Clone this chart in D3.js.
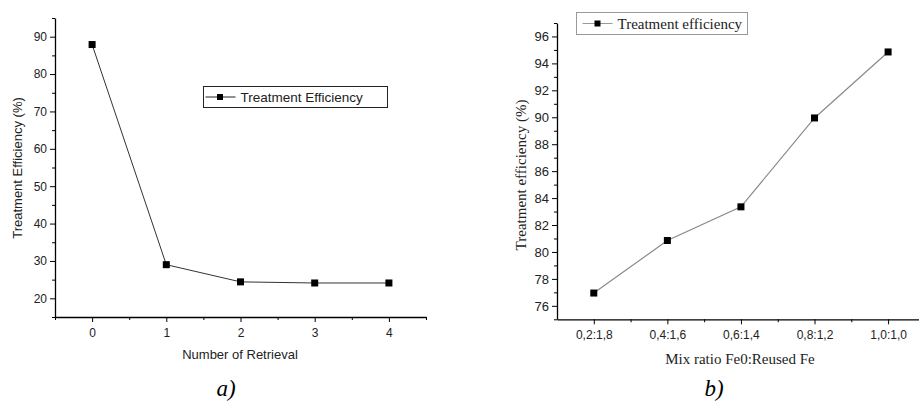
<!DOCTYPE html>
<html>
<head>
<meta charset="utf-8">
<script src="https://cdn.jsdelivr.net/npm/d3@7"></script>
<style>
  body { margin: 0; background: #fff; }
  svg { display: block; }
</style>
</head>
<body>
<svg id="fig" width="919" height="401"></svg>
<script>
// panel a
const retrievals = [0, 1, 2, 3, 4];
const effA = [87.9, 29.0, 24.4, 24.1, 24.1];
const yTicksA = [20, 30, 40, 50, 60, 70, 80, 90];

// panel b
const ratios = ['0,2:1,8', '0,4:1,6', '0,6:1,4', '0,8:1,2', '1,0:1,0'];
const effB = [76.95, 80.85, 83.35, 89.95, 94.85];
const yTicksB = [76, 78, 80, 82, 84, 86, 88, 90, 92, 94, 96];

const svg = d3.select('#fig');

// ---------- panel a ----------
{
    const sans = 'Liberation Sans, Arial, sans-serif';
    const x = d3.scaleLinear().domain([-0.5, 4.5]).range([55, 426]);
    const y = d3.scaleLinear().domain([15, 95]).range([317, 18]);
    const g = svg.append('g').attr('font-family', sans);

    // minor ticks
    g.append('g').attr('transform', 'translate(55,0)')
        .call(d3.axisLeft(y).tickValues(d3.range(15, 96, 10)).tickSize(3).tickFormat(''))
        .call(s => s.select('.domain').remove());
    g.append('g').attr('transform', 'translate(0,317)')
        .call(d3.axisBottom(x).tickValues([-0.5, 0.5, 1.5, 2.5, 3.5, 4.5]).tickSize(3).tickFormat(''))
        .call(s => s.select('.domain').remove());

    const ya = g.append('g').attr('transform', 'translate(55,0)')
        .call(d3.axisLeft(y).tickValues(yTicksA).tickSize(5).tickPadding(3).tickSizeOuter(0));
    ya.selectAll('text').attr('font-size', 12).attr('fill', '#222');
    const xa = g.append('g').attr('transform', 'translate(0,317)')
        .call(d3.axisBottom(x).tickValues(retrievals).tickFormat(d3.format('d'))
            .tickSize(5).tickPadding(6).tickSizeOuter(0));
    xa.selectAll('text').attr('font-size', 12).attr('fill', '#222');
    g.selectAll('.domain').attr('stroke-width', 1.3);

    g.append('path')
        .datum(effA)
        .attr('fill', 'none').attr('stroke', '#333').attr('stroke-width', 1)
        .attr('d', d3.line().x((d, i) => x(retrievals[i])).y(d => y(d)));
    g.selectAll('rect.pt').data(effA).join('rect')
        .attr('x', (d, i) => x(retrievals[i]) - 3.5).attr('y', d => y(d) - 3.5)
        .attr('width', 7).attr('height', 7).attr('fill', '#000');

    g.append('text').attr('x', 240).attr('y', 359).attr('text-anchor', 'middle')
        .attr('font-size', 13).attr('fill', '#222').text('Number of Retrieval');
    g.append('text').attr('transform', 'translate(22,168) rotate(-90)').attr('text-anchor', 'middle')
        .attr('font-size', 13).attr('fill', '#222').text('Treatment Efficiency (%)');

    // legend
    const lg = g.append('g').attr('transform', 'translate(203.5,86.5)');
    lg.append('rect').attr('width', 184).attr('height', 21).attr('fill', '#fff').attr('stroke', '#222');
    lg.append('line').attr('x1', 2).attr('x2', 32).attr('y1', 10.5).attr('y2', 10.5).attr('stroke', '#222');
    lg.append('rect').attr('x', 13.5).attr('y', 7.5).attr('width', 6).attr('height', 6).attr('fill', '#000');
    lg.append('text').attr('x', 37).attr('y', 15.5).attr('font-size', 13.5).attr('fill', '#222').text('Treatment Efficiency');

    svg.append('text').attr('x', 226).attr('y', 396).attr('text-anchor', 'middle')
        .attr('font-family', 'Liberation Serif, Times New Roman, serif').attr('font-style', 'italic')
        .attr('font-size', 23).text('a)');
}

// ---------- panel b ----------
{
    const serif = 'Liberation Serif, Times New Roman, serif';
    const x = d3.scaleLinear().domain([-0.5, 4.42]).range([557, 919]);
    const y = d3.scaleLinear().domain([75, 97]).range([319.3, 23]);
    const g = svg.append('g').attr('font-family', serif);

    g.append('g').attr('transform', 'translate(557,0)')
        .call(d3.axisLeft(y).tickValues(d3.range(75, 97.5, 2)).tickSize(3).tickFormat(''))
        .call(s => s.select('.domain').remove());
    g.append('g').attr('transform', 'translate(0,319.3)')
        .call(d3.axisBottom(x).tickValues([0.5, 1.5, 2.5, 3.5]).tickSize(3).tickFormat(''))
        .call(s => s.select('.domain').remove());

    const yb = g.append('g').attr('transform', 'translate(557,0)')
        .call(d3.axisLeft(y).tickValues(yTicksB).tickSize(5).tickPadding(3).tickSizeOuter(0));
    yb.selectAll('text').attr('font-size', 13).attr('fill', '#222');
    const xb = g.append('g').attr('transform', 'translate(0,319.3)')
        .call(d3.axisBottom(x).tickValues(d3.range(ratios.length)).tickFormat(i => ratios[i])
            .tickSize(5).tickPadding(6).tickSizeOuter(0));
    xb.selectAll('text').attr('font-size', 12).attr('fill', '#222');
    g.selectAll('.domain').attr('stroke-width', 1.3);

    g.append('path')
        .datum(effB)
        .attr('fill', 'none').attr('stroke', '#8a8a8a').attr('stroke-width', 1.2)
        .attr('d', d3.line().x((d, i) => x(i)).y(d => y(d)));
    g.selectAll('rect.pt').data(effB).join('rect')
        .attr('x', (d, i) => x(i) - 3.5).attr('y', d => y(d) - 3.5)
        .attr('width', 7).attr('height', 7).attr('fill', '#000');

    g.append('text').attr('x', 740).attr('y', 364).attr('text-anchor', 'middle')
        .attr('font-size', 15).attr('fill', '#222').text('Mix ratio Fe0:Reused Fe');
    g.append('text').attr('transform', 'translate(526,175) rotate(-90)').attr('text-anchor', 'middle')
        .attr('font-size', 15).attr('fill', '#222').text('Treatment efficiency (%)');

    const lg = g.append('g').attr('transform', 'translate(576.5,12.5)');
    lg.append('rect').attr('width', 171).attr('height', 22).attr('fill', '#fff').attr('stroke', '#999');
    lg.append('line').attr('x1', 6).attr('x2', 36).attr('y1', 11).attr('y2', 11).attr('stroke', '#999');
    lg.append('rect').attr('x', 18).attr('y', 8).attr('width', 6).attr('height', 6).attr('fill', '#000');
    lg.append('text').attr('x', 41).attr('y', 16).attr('font-size', 15).attr('fill', '#222').text('Treatment efficiency');

    svg.append('text').attr('x', 714).attr('y', 396).attr('text-anchor', 'middle')
        .attr('font-family', serif).attr('font-style', 'italic')
        .attr('font-size', 23).text('b)');
}
</script>
</body>
</html>
